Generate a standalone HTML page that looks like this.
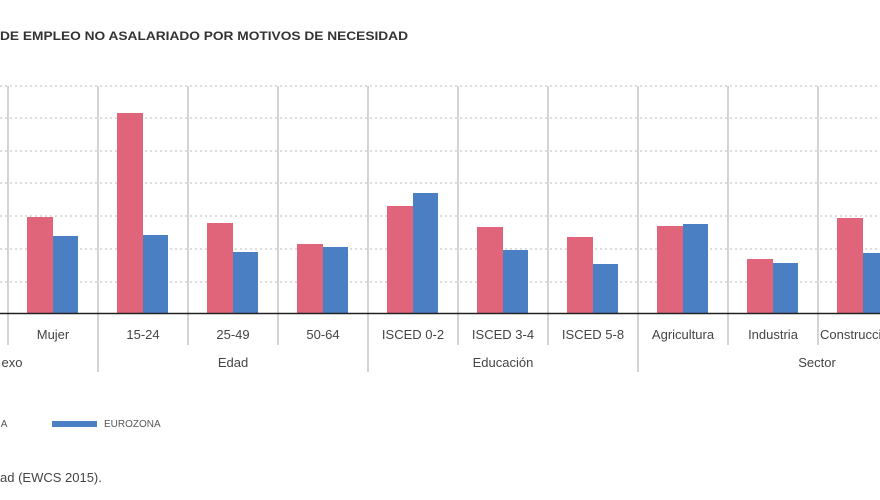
<!DOCTYPE html>
<html><head><meta charset="utf-8"><style>
body{margin:0;background:#fff;width:880px;height:495px;overflow:hidden;font-family:"Liberation Sans",sans-serif}
</style></head><body>
<svg width="880" height="495" xmlns="http://www.w3.org/2000/svg" font-family="Liberation Sans, sans-serif">
<text x="0" y="40" font-size="12" font-weight="bold" fill="#333" textLength="408" lengthAdjust="spacingAndGlyphs">DE EMPLEO NO ASALARIADO POR MOTIVOS DE NECESIDAD</text>
<g stroke="#bbb" stroke-dasharray="2,3" stroke-width="1">
<line x1="0" x2="880" y1="86" y2="86"/><line x1="0" x2="880" y1="118" y2="118"/><line x1="0" x2="880" y1="151" y2="151"/><line x1="0" x2="880" y1="183" y2="183"/><line x1="0" x2="880" y1="216" y2="216"/><line x1="0" x2="880" y1="249" y2="249"/><line x1="0" x2="880" y1="282" y2="282"/>
</g>
<g stroke="#aaa" stroke-width="1">
<line x1="8" x2="8" y1="86" y2="345"/><line x1="98" x2="98" y1="86" y2="372"/><line x1="188" x2="188" y1="86" y2="345"/><line x1="278" x2="278" y1="86" y2="345"/><line x1="368" x2="368" y1="86" y2="372"/><line x1="458" x2="458" y1="86" y2="345"/><line x1="548" x2="548" y1="86" y2="345"/><line x1="638" x2="638" y1="86" y2="372"/><line x1="728" x2="728" y1="86" y2="345"/><line x1="818" x2="818" y1="86" y2="345"/>
</g>
<g fill="#e0657a">
<rect x="27" y="217" width="26" height="96"/><rect x="117" y="113" width="26" height="200"/><rect x="207" y="223" width="26" height="90"/><rect x="297" y="244" width="26" height="69"/><rect x="387" y="206" width="26" height="107"/><rect x="477" y="227" width="26" height="86"/><rect x="567" y="237" width="26" height="76"/><rect x="657" y="226" width="26" height="87"/><rect x="747" y="259" width="26" height="54"/><rect x="837" y="218" width="26" height="95"/>
</g>
<g fill="#4a7fc4">
<rect x="53" y="236" width="25" height="77"/><rect x="143" y="235" width="25" height="78"/><rect x="233" y="252" width="25" height="61"/><rect x="323" y="247" width="25" height="66"/><rect x="413" y="193" width="25" height="120"/><rect x="503" y="250" width="25" height="63"/><rect x="593" y="264" width="25" height="49"/><rect x="683" y="224" width="25" height="89"/><rect x="773" y="263" width="25" height="50"/><rect x="863" y="253" width="25" height="60"/>
</g>
<line x1="0" x2="880" y1="313.5" y2="313.5" stroke="#222" stroke-width="1.5"/>
<g font-size="13" fill="#444" text-anchor="middle">
<text x="53" y="339">Mujer</text><text x="143" y="339">15-24</text><text x="233" y="339">25-49</text><text x="323" y="339">50-64</text><text x="413" y="339">ISCED 0-2</text><text x="503" y="339">ISCED 3-4</text><text x="593" y="339">ISCED 5-8</text><text x="683" y="339">Agricultura</text><text x="773" y="339">Industria</text><text x="820" y="339" text-anchor="start">Construcción</text>
<text x="12" y="367">exo</text><text x="233" y="367">Edad</text><text x="503" y="367">Educación</text><text x="817" y="367">Sector</text>
</g>
<text x="-2" y="427" font-size="10" fill="#555">IA</text>
<rect x="52" y="421" width="45" height="6" fill="#4a7fc4"/>
<text x="104" y="427" font-size="10" fill="#555">EUROZONA</text>
<text x="0" y="482" font-size="13" fill="#444">ad (EWCS 2015).</text>
</svg>
</body></html>
